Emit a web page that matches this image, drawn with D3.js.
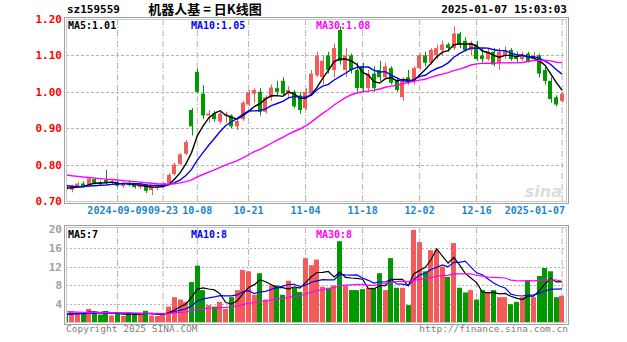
<!DOCTYPE html>
<html>
<head>
<meta charset="utf-8">
<script src="https://cdn.jsdelivr.net/npm/d3@7"></script>
<style>
  body { margin: 0; background: #fff; }
  text { font-family: "DejaVu Sans Mono", monospace; }
</style>
</head>
<body>
<script>
// trading days shown (2024-08-27 .. 2025-01-07)
var dates = [
  "08-27","08-28","08-29","08-30","09-02","09-03","09-04","09-05","09-06",
  "09-09","09-10","09-11","09-12","09-13","09-18","09-19","09-20",
  "09-23","09-24","09-25","09-26","09-27","09-30",
  "10-08","10-09","10-10","10-11","10-14","10-15","10-16","10-17","10-18",
  "10-21","10-22","10-23","10-24","10-25","10-28","10-29","10-30","10-31","11-01",
  "11-04","11-05","11-06","11-07","11-08","11-11","11-12","11-13","11-14","11-15",
  "11-18","11-19","11-20","11-21","11-22","11-25","11-26","11-27","11-28","11-29",
  "12-02","12-03","12-04","12-05","12-06","12-09","12-10","12-11","12-12","12-13",
  "12-16","12-17","12-18","12-19","12-20","12-23","12-24","12-25","12-26","12-27",
  "12-30","12-31","01-02","01-03","01-06","01-07"
];

var open = [
  .740,.731,.742,.748,.744,.760,.751,.758,.750,.753,.741,.748,.744,.738,.746,.730,.738,.740,
  .750,.774,.802,.830,.950,1.055,.995,.935,.940,.918,.935,.935,.905,.925,.965,.995,1.000,.945,
  .985,1.010,1.030,.995,1.000,.990,.955,.995,1.045,1.040,1.100,1.060,1.170,1.060,1.100,1.060,
  1.070,1.010,1.050,1.060,1.040,1.065,1.030,.985,1.040,1.030,1.065,1.100,1.080,1.100,1.115,1.130,
  1.120,1.160,1.140,1.115,1.130,1.100,1.090,1.110,1.080,1.100,1.115,1.100,1.090,1.105,1.090,1.100,
  1.060,1.030,.985,.975
];
var high = [
  .744,.745,.752,.754,.766,.764,.756,.785,.758,.756,.752,.756,.750,.748,.748,.742,.746,.752,
  .776,.805,.832,.868,.955,1.064,1.018,.950,.948,.945,.945,.938,.925,.975,1.005,1.010,1.010,.990,
  1.020,1.030,1.040,1.015,1.005,1.000,1.010,1.060,1.110,1.100,1.110,1.133,1.180,1.120,1.105,1.080,
  1.080,1.060,1.070,1.085,1.080,1.070,1.040,1.040,1.060,1.070,1.105,1.110,1.120,1.130,1.140,1.135,
  1.180,1.165,1.150,1.140,1.140,1.120,1.120,1.120,1.120,1.125,1.120,1.110,1.110,1.110,1.110,1.105,
  1.070,1.040,.990,1.000
];
var low = [
  .728,.724,.736,.738,.740,.746,.742,.747,.744,.738,.736,.740,.734,.733,.722,.716,.730,.736,
  .748,.770,.798,.826,.880,.995,.925,.915,.918,.912,.915,.900,.895,.920,.960,.970,.935,.940,
  .975,.990,.990,.985,.955,.940,.950,.990,1.040,1.020,1.050,1.040,1.075,1.040,1.050,1.000,
  1.000,1.000,1.000,1.030,1.035,1.020,1.000,.975,1.020,1.020,1.060,1.070,1.075,1.090,1.100,1.110,
  1.115,1.120,1.110,1.100,1.085,1.080,1.085,1.070,1.060,1.090,1.085,1.080,1.085,1.080,1.085,1.040,
  1.020,.970,.960,.970
];
var close = [
  .732,.742,.748,.741,.762,.750,.746,.750,.753,.742,.748,.744,.738,.745,.728,.738,.741,.748,
  .772,.800,.828,.862,.905,1.000,.935,.940,.925,.940,.938,.905,.920,.970,.998,1.005,.945,.985,
  1.012,1.000,.995,1.005,.960,.950,1.000,1.050,1.100,1.085,1.060,1.120,1.085,1.100,1.060,1.010,
  1.010,1.050,1.010,1.040,1.070,1.025,1.005,1.030,1.030,1.065,1.100,1.080,1.115,1.120,1.130,1.120,
  1.160,1.130,1.115,1.135,1.090,1.090,1.110,1.075,1.110,1.115,1.090,1.090,1.100,1.085,1.100,1.050,
  1.030,.980,.965,.995
];
// volume, 万手
var volume = [
  1.8,2.5,2.2,2.0,3.0,2.2,1.8,2.5,1.6,2.0,1.5,2.2,1.8,2.0,2.6,1.6,1.5,1.8,
  3.5,5.5,5.0,4.5,8.7,12.2,7.0,3.8,3.5,4.5,3.0,5.5,7.0,11.3,11.0,6.0,10.6,5.0,
  8.0,8.0,6.0,9.0,7.5,6.6,13.8,12.3,13.5,7.7,7.5,8.0,17.4,8.0,7.0,7.0,
  7.2,7.5,7.5,10.6,7.0,13.8,7.5,7.5,3.8,19.8,17.2,11.0,15.5,15.5,12.0,9.8,
  17.0,7.5,6.5,7.0,5.0,7.0,6.5,7.0,5.5,5.5,4.0,4.5,5.5,9.0,5.5,10.0,
  11.7,11.0,5.5,5.8
];
// the 29 sessions before the window, only used for the moving averages
var prevClose = [
  .805,.800,.798,.802,.795,.790,.792,.788,.785,.790,.786,.782,.784,.780,.778,
  .782,.776,.772,.770,.766,.760,.752,.748,.745,.742,.738,.740,.735,.733
];
var prevVolume = [
  3.2,2.8,3.5,2.9,2.6,3.0,2.4,2.7,3.1,2.5,2.2,2.6,2.9,2.3,2.0,
  2.4,2.6,2.2,1.9,2.1,2.3,1.8,2.0,2.2,1.7,1.9,2.1,1.8,1.6
];

var priceTicks = [0.70, 0.80, 0.90, 1.00, 1.10, 1.20];
var volTicks = [4, 8, 12, 16, 20];
var dateTicks = ["09-09","09-23","10-08","10-21","11-04","11-18","12-02","12-16","01-07"];
var dateTickText = ["2024-09-09","09-23","10-08","10-21","11-04","11-18","12-02","12-16","2025-01-07"];
var maDays = [5, 10, 30];
var maColors = ["#000000", "#0000ff", "#ff00ff"];
var priceMaText = ["MA5:1.01", "MA10:1.05", "MA30:1.08"];
var volMaText = ["MA5:7", "MA10:8", "MA30:8"];

var upColor = "#f55a5a", downColor = "#009900";

var W = 627, H = 342;
var left = 66, right = 567;
var pTop = 19, pBottom = 202;
var vTop = 227, vBottom = 323;

var svg = d3.select("body").append("svg")
    .attr("width", W).attr("height", H);

var x = d3.scaleBand()
    .domain(dates)
    .range([62.7, 565.6])
    .padding(0.22);
var cx = function(d) { return x(d) + x.bandwidth() / 2; };

var yP = d3.scaleLinear().domain([0.70, 1.20]).range([201, 19]);
var yV = d3.scaleLinear().domain([0, 20]).range([323, 229]);

function movingAvg(prev, vals, n) {
    var all = prev.concat(vals);
    var off = prev.length;
    return vals.map(function(v, i) {
        var s = 0;
        for (var k = 0; k < n; k++) s += all[off + i - k];
        return s / n;
    });
}

var candles = dates.map(function(d, i) {
    return {date: d, o: open[i], h: high[i], l: low[i], c: close[i], v: volume[i]};
});

// clip areas
var defs = svg.append("defs");
defs.append("clipPath").attr("id", "clipP")
    .append("rect").attr("x", left).attr("y", pTop).attr("width", right - left).attr("height", pBottom - pTop);
defs.append("clipPath").attr("id", "clipV")
    .append("rect").attr("x", left).attr("y", vTop).attr("width", right - left).attr("height", vBottom - vTop);

// ---- header
svg.append("text").attr("x", 67).attr("y", 13)
    .attr("font-size", 11).attr("font-weight", "bold").attr("fill", "#000")
    .text("sz159559");
svg.append("text").attr("x", 205).attr("y", 14)
    .attr("text-anchor", "middle")
    .style("font-family", "'Noto Sans CJK SC', sans-serif")
    .attr("font-size", 13).attr("font-weight", "bold").attr("fill", "#000")
    .text("机器人基 = 日K线图");
svg.append("text").attr("x", 567).attr("y", 13)
    .attr("text-anchor", "end")
    .attr("font-size", 11).attr("font-weight", "bold").attr("fill", "#000")
    .text("2025-01-07 15:03:03");

// ---- grids
function vGrid(y0, y1) {
    svg.append("g").selectAll("line").data(dateTicks).enter()
        .append("line")
        .attr("x1", cx).attr("x2", cx)
        .attr("y1", y0).attr("y2", y1)
        .attr("stroke", "#b4b4b4")
        .attr("stroke-dasharray", "6,2,1,2");
}
vGrid(pTop, pBottom);
vGrid(vTop, vBottom);

svg.append("g").selectAll("line").data(priceTicks.slice(1, -1)).enter()
    .append("line")
    .attr("x1", left).attr("x2", right)
    .attr("y1", function(d) { return Math.round(yP(d)) + 0.5; })
    .attr("y2", function(d) { return Math.round(yP(d)) + 0.5; })
    .attr("stroke", "#b4b4b4")
    .attr("stroke-dasharray", "3,2");

svg.append("g").selectAll("line").data(volTicks.slice(0, -1)).enter()
    .append("line")
    .attr("x1", left).attr("x2", right)
    .attr("y1", function(d) { return Math.round(yV(d)) + 0.5; })
    .attr("y2", function(d) { return Math.round(yV(d)) + 0.5; })
    .attr("stroke", "#b4b4b4")
    .attr("stroke-dasharray", "2,2");

// ---- axis labels
var yAxisP = d3.axisLeft(yP).tickValues(priceTicks).tickFormat(d3.format(".2f")).tickSize(0).tickPadding(3);
var gp = svg.append("g").attr("transform", "translate(" + (left - 1) + ",0)").call(yAxisP);
gp.select(".domain").remove();
gp.selectAll("text").attr("fill", "#ff0000").attr("font-size", 11).attr("font-weight", "bold")
    .style("font-family", "'DejaVu Sans Mono', monospace");

var yAxisV = d3.axisLeft(yV).tickValues(volTicks).tickSize(0).tickPadding(3);
var gv = svg.append("g").attr("transform", "translate(" + (left - 1) + ",0)").call(yAxisV);
gv.select(".domain").remove();
gv.selectAll("text").attr("fill", "#a0a0a0").attr("font-size", 11).attr("font-weight", "bold")
    .style("font-family", "'DejaVu Sans Mono', monospace");

svg.append("g").selectAll("text").data(dateTicks).enter()
    .append("text")
    .attr("x", function(d, i) { return i == dateTicks.length - 1 ? right - 2 : cx(d); })
    .attr("y", 214)
    .attr("text-anchor", function(d, i) { return i == dateTicks.length - 1 ? "end" : "middle"; })
    .attr("font-size", 10).attr("font-weight", "bold")
    .attr("fill", "#1a84d0")
    .text(function(d, i) { return dateTickText[i]; });

// ---- candles
var gc = svg.append("g").attr("clip-path", "url(#clipP)");
var bw = x.bandwidth();
gc.selectAll("line.wick").data(candles).enter()
    .append("line")
    .attr("x1", function(d) { return Math.round(cx(d.date)) + 0.5; })
    .attr("x2", function(d) { return Math.round(cx(d.date)) + 0.5; })
    .attr("y1", function(d) { return yP(d.h); })
    .attr("y2", function(d) { return yP(d.l); })
    .attr("stroke", function(d) { return d.c >= d.o ? upColor : downColor; });
gc.selectAll("rect.body").data(candles).enter()
    .append("rect")
    .attr("x", function(d) { return Math.round(cx(d.date) - bw / 2); })
    .attr("width", Math.round(bw))
    .attr("y", function(d) { return yP(Math.max(d.o, d.c)); })
    .attr("height", function(d) { return Math.max(1, Math.abs(yP(d.o) - yP(d.c))); })
    .attr("fill", function(d) { return d.c >= d.o ? upColor : downColor; });

// moving averages on price
maDays.forEach(function(n, k) {
    var ma = movingAvg(prevClose, close, n);
    var line = d3.line()
        .x(function(d, i) { return cx(dates[i]); })
        .y(function(d) { return yP(d); });
    gc.append("path").datum(ma)
        .attr("d", line)
        .attr("fill", "none")
        .attr("stroke", maColors[k])
        .attr("stroke-width", 1.4);
});

// ---- volume bars
var gvb = svg.append("g").attr("clip-path", "url(#clipV)");
gvb.selectAll("rect").data(candles).enter()
    .append("rect")
    .attr("x", function(d) { return Math.round(x(d.date) - x.step() * 0.08); })
    .attr("width", Math.round(x.step() - 1))
    .attr("y", function(d) { return yV(d.v); })
    .attr("height", function(d) { return yV(0) - yV(d.v); })
    .attr("fill", function(d) { return d.c >= d.o ? upColor : downColor; });

maDays.forEach(function(n, k) {
    var ma = movingAvg(prevVolume, volume, n);
    var line = d3.line()
        .x(function(d, i) { return cx(dates[i]); })
        .y(function(d) { return yV(d); });
    gvb.append("path").datum(ma)
        .attr("d", line)
        .attr("fill", "none")
        .attr("stroke", maColors[k])
        .attr("stroke-width", 1.2);
});

// ---- MA legends
var legX = [68, 191, 316];
svg.append("g").selectAll("text").data(priceMaText).enter()
    .append("text")
    .attr("x", function(d, i) { return legX[i]; }).attr("y", 29)
    .attr("font-size", 10).attr("font-weight", "bold")
    .attr("fill", function(d, i) { return maColors[i]; })
    .text(function(d) { return d; });
svg.append("g").selectAll("text").data(volMaText).enter()
    .append("text")
    .attr("x", function(d, i) { return legX[i]; }).attr("y", 238)
    .attr("font-size", 10).attr("font-weight", "bold")
    .attr("fill", function(d, i) { return maColors[i]; })
    .text(function(d) { return d; });

// ---- panel borders (double lines)
[[pTop, pBottom], [vTop, vBottom]].forEach(function(p) {
    svg.append("rect").attr("x", left - 1.5).attr("y", p[0] - 1.5)
        .attr("width", right - left + 3).attr("height", p[1] - p[0] + 3)
        .attr("fill", "none").attr("stroke", "#a0a0a0").attr("stroke-width", 1);
    svg.append("rect").attr("x", left + 0.5).attr("y", p[0] + 0.5)
        .attr("width", right - left - 1).attr("height", p[1] - p[0] - 1)
        .attr("fill", "none").attr("stroke", "#c8c8c8").attr("stroke-width", 1);
});

// watermark + footers
svg.append("text").attr("x", 562).attr("y", 197)
    .attr("text-anchor", "end")
    .style("font-family", "'DejaVu Sans', sans-serif")
    .attr("font-size", 16).attr("font-style", "italic").attr("font-weight", "bold")
    .attr("fill", "#dcdcdc")
    .text("sina");
svg.append("text").attr("x", 66).attr("y", 332)
    .attr("font-size", 9.5).attr("fill", "#808080")
    .text("Copyright 2025 SINA.COM");
svg.append("text").attr("x", 568).attr("y", 332)
    .attr("text-anchor", "end")
    .attr("font-size", 9.5).attr("fill", "#808080")
    .text("http://finance.sina.com.cn");
</script>
</body>
</html>
